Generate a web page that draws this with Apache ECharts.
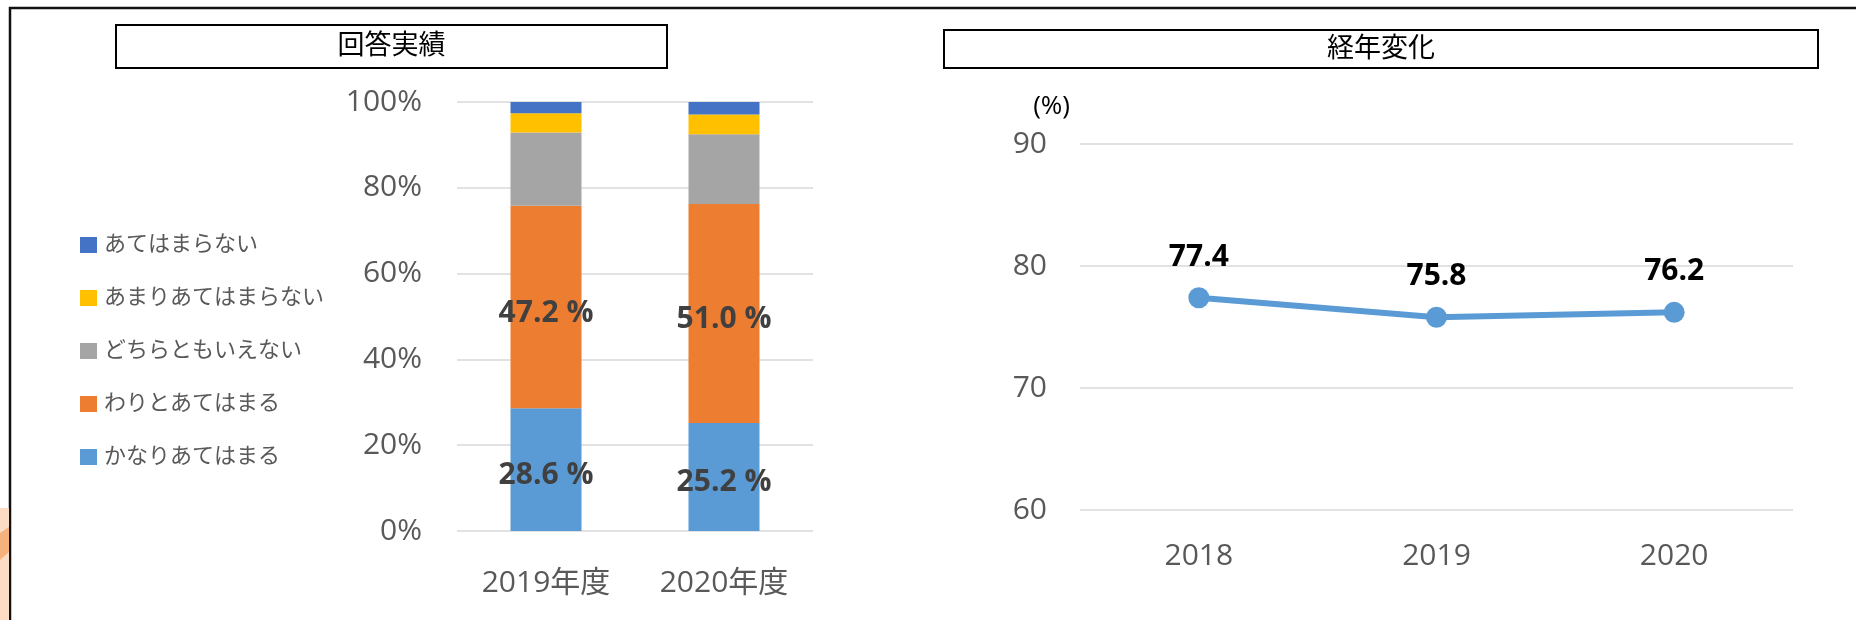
<!DOCTYPE html>
<html>
<head>
<meta charset="utf-8">
<script src="https://cdn.jsdelivr.net/npm/echarts@6/dist/echarts.min.js"></script>
<style>
  html, body { margin: 0; padding: 0; background: #fff; }
  #main { width: 1856px; height: 620px; }
</style>
</head>
<body>
<div id="main"></div>
<script>
const FONT = '"Open Sans", "Noto Sans CJK JP", sans-serif';

// 回答実績 (stacked bars)
const barCategories = ['2019年度', '2020年度'];
const legendNames = ['あてはまらない', 'あまりあてはまらない', 'どちらともいえない', 'わりとあてはまる', 'かなりあてはまる'];
const kanari = [28.6, 25.2];
const warito = [47.2, 51.0];
const dochira = [17.1, 16.3];
const amari = [4.5, 4.6];
const atehamaranai = [2.6, 2.9];

// 経年変化 (line)
const years = ['2018', '2019', '2020'];
const rates = [77.4, 75.8, 76.2];

const colors = {
    'かなりあてはまる': '#5B9BD5',
    'わりとあてはまる': '#ED7D31',
    'どちらともいえない': '#A5A5A5',
    'あまりあてはまらない': '#FFC000',
    'あてはまらない': '#4472C4',
};

const myChart = echarts.init(document.getElementById('main'));

const barLabel = {
    show: true,
    position: 'inside',
    offset: [0, 6],
    color: '#404040',
    fontFamily: FONT,
    fontWeight: 'bold',
    fontSize: 30,
    formatter: (p) => p.value.toFixed(1) + ' %',
};

const stackBar = (name, data, withLabel) => ({
    name: name,
    type: 'bar',
    stack: 'total',
    xAxisIndex: 0,
    yAxisIndex: 0,
    barWidth: 71,
    data: data,
    itemStyle: {color: colors[name]},
    label: withLabel ? barLabel : {show: false},
});

const titleBox = (x, y, w, h, text) => ([
    {
        type: 'rect',
        shape: {x: x, y: y, width: w, height: h},
        style: {fill: '#fff', stroke: '#000', lineWidth: 2},
        z: 10,
    },
    {
        type: 'text',
        x: x + w / 2,
        y: y + h / 2,
        style: {
            text: text,
            font: '27px ' + FONT,
            fill: '#000',
            align: 'center',
            verticalAlign: 'middle',
        },
        z: 11,
    },
]);

const option = {
    animation: false,
    backgroundColor: '#fff',
    textStyle: {fontFamily: FONT},
    graphic: [
        // 外枠
        {
            type: 'rect',
            shape: {x: 10, y: 8, width: 1900, height: 700},
            style: {fill: 'none', stroke: '#111', lineWidth: 2.5},
        },
        // 左端の背景
        {
            type: 'rect',
            shape: {x: 0, y: 508, width: 9, height: 112},
            style: {fill: '#FCDCC4'},
        },
        {
            type: 'polygon',
            shape: {points: [[0, 533], [9, 527], [9, 552], [0, 560]]},
            style: {fill: '#F6B27C'},
        },
        ...titleBox(116, 25, 551, 43, '回答実績'),
        ...titleBox(944, 30, 874, 38, '経年変化'),
    ],
    legend: {
        data: legendNames,
        orient: 'vertical',
        left: 75,
        top: 229,
        itemWidth: 17,
        itemHeight: 16,
        itemGap: 31,
        icon: 'rect',
        textStyle: {fontFamily: FONT, fontSize: 22, lineHeight: 22, color: '#595959', padding: [0, 0, 0, 2]},
    },
    grid: [
        {left: 457, top: 102, width: 356, height: 429},
        {left: 1080, top: 144, width: 713, height: 366},
    ],
    xAxis: [
        {
            gridIndex: 0,
            type: 'category',
            data: barCategories,
            axisLine: {show: false},
            axisTick: {show: false},
            axisLabel: {color: '#595959', fontSize: 30, fontFamily: FONT, margin: 37},
        },
        {
            gridIndex: 1,
            type: 'category',
            data: years,
            boundaryGap: true,
            axisLine: {show: false},
            axisTick: {show: false},
            axisLabel: {color: '#595959', fontSize: 30, fontFamily: FONT, margin: 31},
        },
    ],
    yAxis: [
        {
            gridIndex: 0,
            type: 'value',
            min: 0,
            max: 100,
            interval: 20,
            axisLabel: {color: '#595959', fontSize: 30, fontFamily: FONT, margin: 35, formatter: '{value}%'},
            splitLine: {lineStyle: {color: '#D9D9D9', width: 1.5}},
        },
        {
            gridIndex: 1,
            type: 'value',
            min: 60,
            max: 90,
            interval: 10,
            name: '(%)',
            nameLocation: 'end',
            nameGap: 24,
            nameTextStyle: {color: '#000', fontSize: 26, fontFamily: FONT, align: 'right', padding: [0, 10, 0, 0]},
            axisLabel: {color: '#595959', fontSize: 30, fontFamily: FONT, margin: 33},
            splitLine: {lineStyle: {color: '#D9D9D9', width: 1.5}},
        },
    ],
    series: [
        stackBar('かなりあてはまる', kanari, true),
        stackBar('わりとあてはまる', warito, true),
        stackBar('どちらともいえない', dochira, false),
        stackBar('あまりあてはまらない', amari, false),
        stackBar('あてはまらない', atehamaranai, false),
        {
            name: '経年変化',
            type: 'line',
            xAxisIndex: 1,
            yAxisIndex: 1,
            data: rates,
            symbol: 'circle',
            symbolSize: 21,
            lineStyle: {color: '#5B9BD5', width: 6},
            itemStyle: {color: '#5B9BD5'},
            label: {
                show: true,
                position: 'top',
                distance: 15,
                color: '#000',
                fontFamily: FONT,
                fontWeight: 'bold',
                fontSize: 30,
            },
        },
    ],
};

myChart.setOption(option);
</script>
</body>
</html>
